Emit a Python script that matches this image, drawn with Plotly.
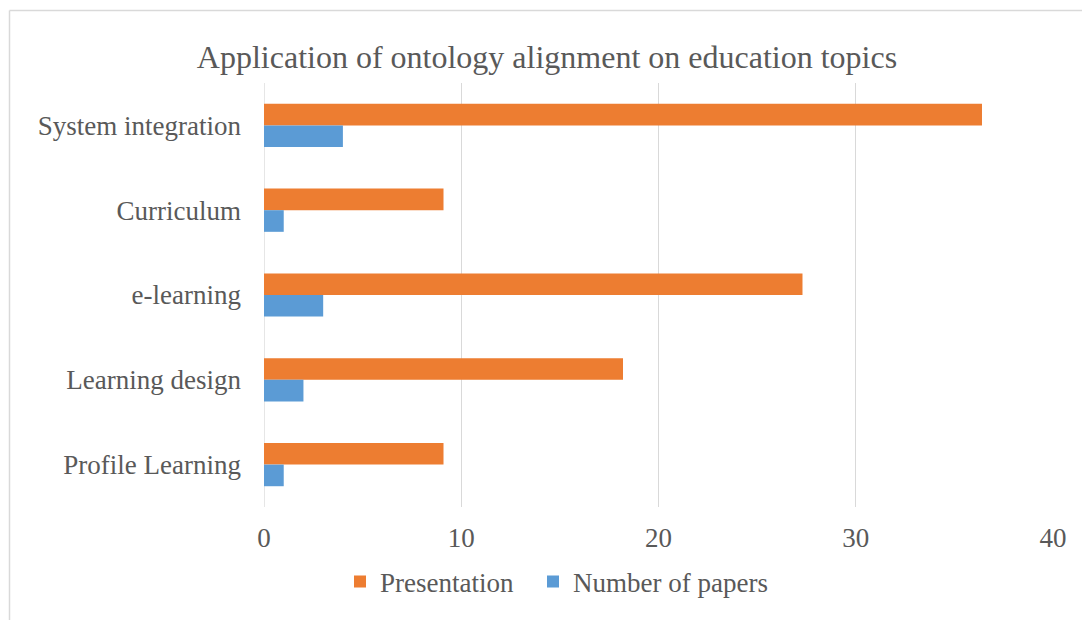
import plotly.graph_objects as go

categories = ["System integration", "Curriculum", "e-learning", "Learning design", "Profile Learning"]
presentation = [36.4, 9.1, 27.3, 18.2, 9.1]
num_papers = [4, 1, 3, 2, 1]
x_ticks = [0, 10, 20, 30, 40]

FONT = "Liberation Serif, Times New Roman, serif"
GREY = "#595959"
GRID = "#d9d9d9"

fig = go.Figure()
fig.add_trace(go.Bar(y=categories, x=presentation, name="Presentation", orientation="h",
                     marker=dict(color="#ED7D31", line=dict(width=0)), legend="legend"))
fig.add_trace(go.Bar(y=categories, x=num_papers, name="Number of papers", orientation="h",
                     marker=dict(color="#5B9BD5", line=dict(width=0)), legend="legend2"))

# page has an 8px body margin; figure coordinates = page coordinates - 8
OFF = 8
W, H = 1090 - OFF, 620 - OFF
L, R, T, B = 264 - OFF, W - (1053 - OFF), 83 - OFF, H - (507 - OFF)
pw, ph = W - L - R, H - T - B

def px2paper_x(px):
    return (px - OFF - L) / pw

def px2paper_y(py):
    return (H - B - (py - OFF)) / ph

legend_common = dict(orientation="h", xanchor="left", y=px2paper_y(582), yanchor="middle",
                     font=dict(size=27, color=GREY), itemwidth=30,
                     bgcolor="rgba(0,0,0,0)")

fig.update_layout(
    width=W, height=H,
    margin=dict(l=L, r=R, t=T, b=B, pad=0),
    paper_bgcolor="white", plot_bgcolor="white",
    barmode="group", bargap=0.49, bargroupgap=0,
    font=dict(family=FONT, color=GREY, size=27),
    title=dict(text="Application of ontology alignment on education topics",
               x=(547 - OFF) / W, xref="container", xanchor="center",
               y=1 - (57 - OFF) / H, yref="container", yanchor="middle",
               font=dict(family=FONT, size=32, color=GREY)),
    xaxis=dict(range=[0, 40], tickvals=x_ticks, showgrid=True, gridcolor=GRID, gridwidth=1.3,
               zeroline=False, showline=False, ticks="", ticklabelstandoff=12,
               tickfont=dict(size=27, color=GREY)),
    yaxis=dict(autorange="reversed", showgrid=False, showline=False, zeroline=False,
               ticks="", ticklabelstandoff=22, tickfont=dict(size=27, color=GREY)),
    legend=dict(x=px2paper_x(340), **legend_common),
    legend2=dict(x=px2paper_x(533), **legend_common),
    showlegend=True,
    shapes=[
        dict(type="line", xref="paper", yref="paper",
             x0=px2paper_x(9.5), x1=px2paper_x(9.5), y0=px2paper_y(10.5), y1=px2paper_y(640),
             line=dict(color=GRID, width=1.5)),
        dict(type="line", xref="paper", yref="paper",
             x0=px2paper_x(9.5), x1=px2paper_x(1110), y0=px2paper_y(10.5), y1=px2paper_y(10.5),
             line=dict(color=GRID, width=1.5)),
        dict(type="line", xref="x", yref="paper", x0=0, x1=0, y0=0, y1=1,
             line=dict(color=GRID, width=1.3), layer="below"),
    ],
)

fig.write_html("out.html")
